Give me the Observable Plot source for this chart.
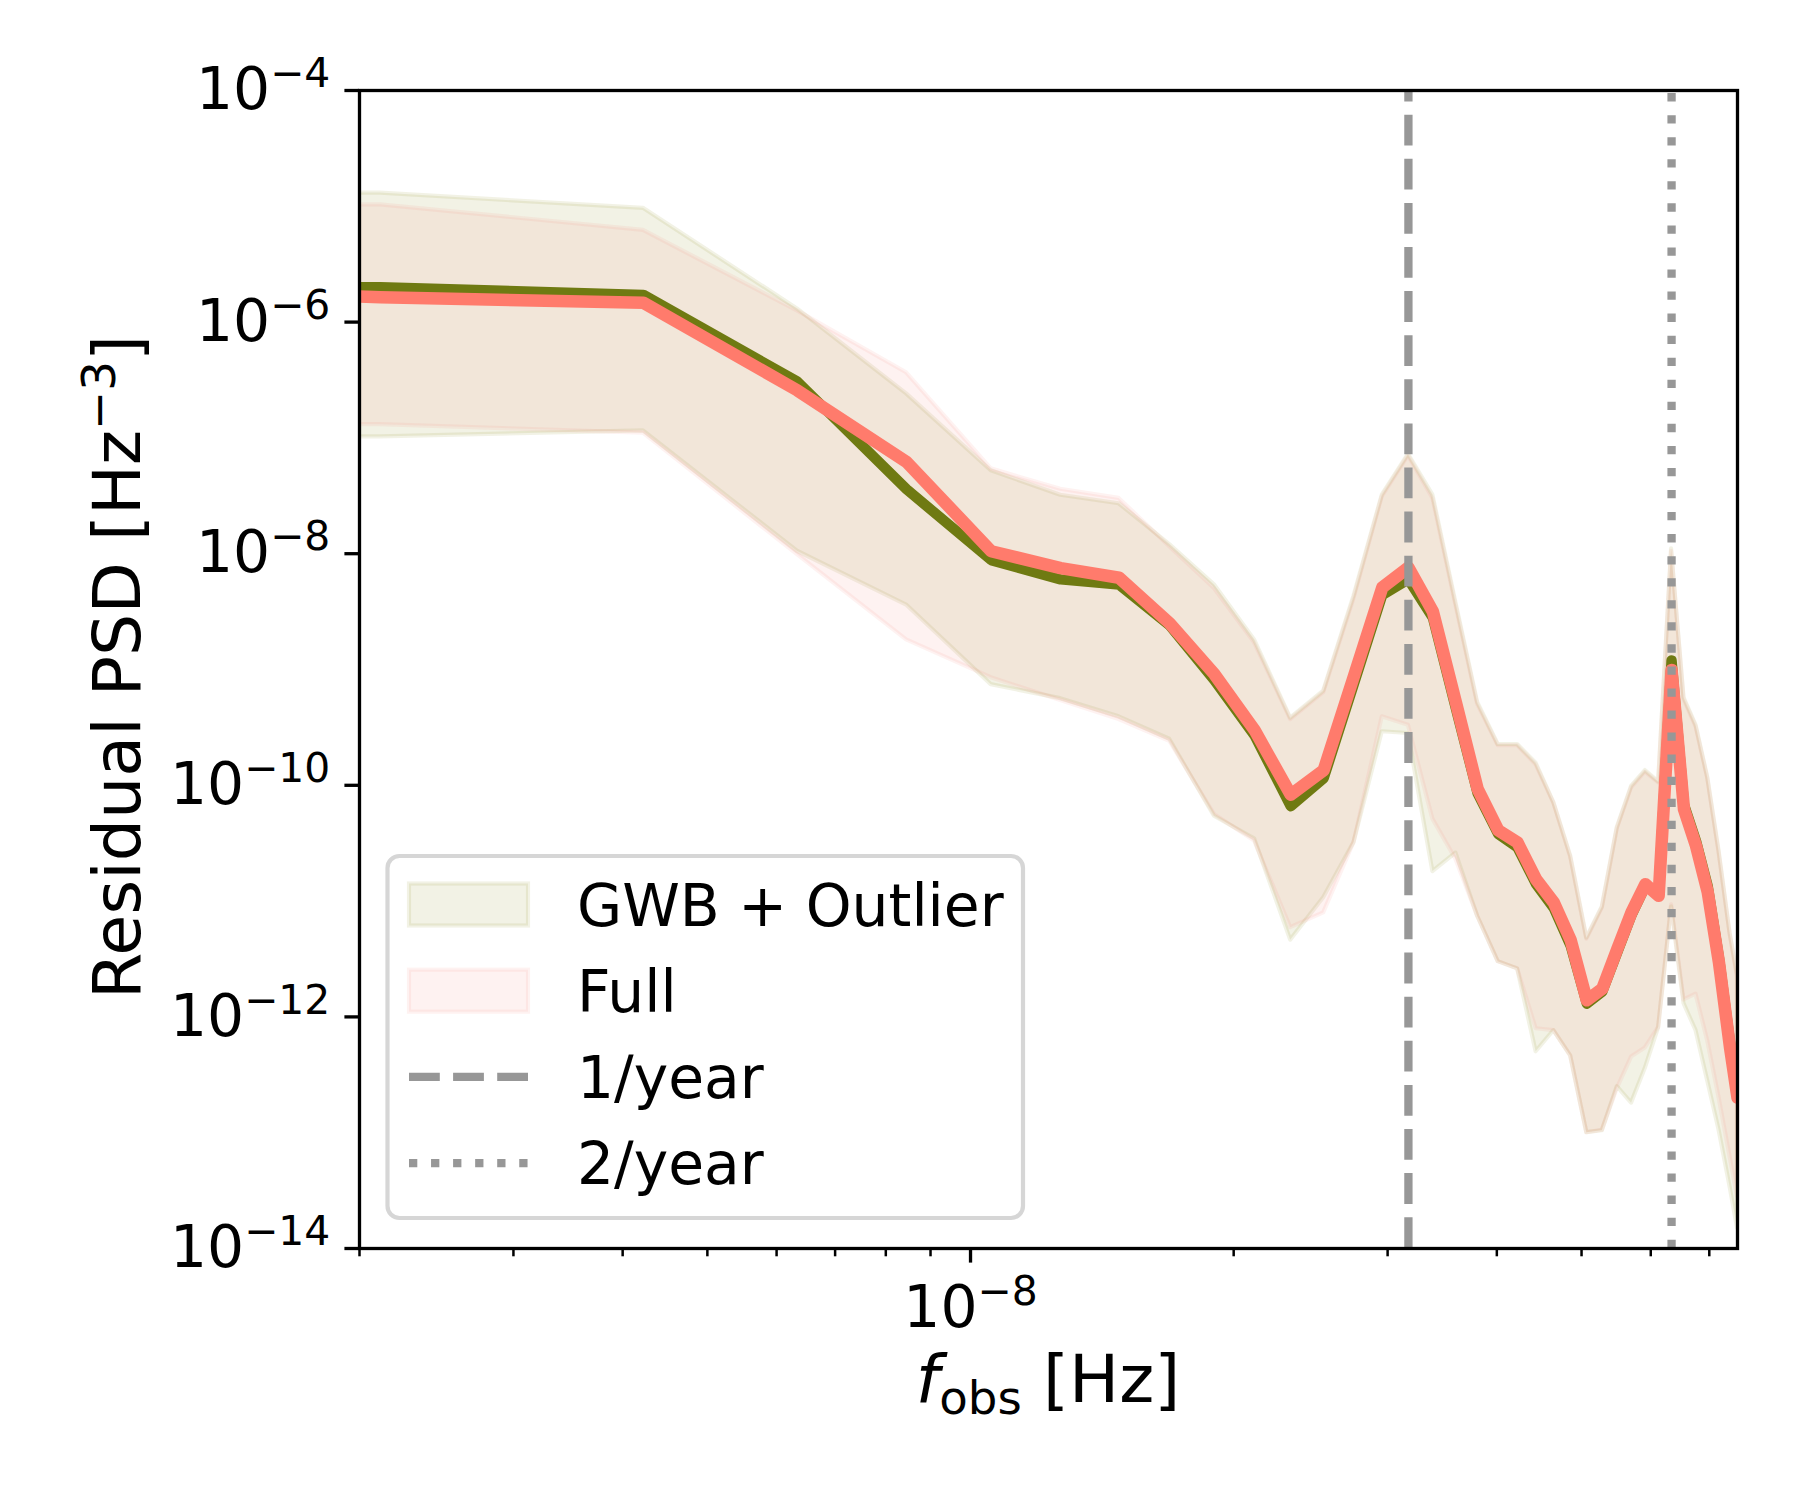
<!DOCTYPE html>
<html>
<head>
<meta charset="utf-8">
<script src="https://cdn.jsdelivr.net/npm/d3@7"></script>
<script src="https://cdn.jsdelivr.net/npm/@observablehq/plot@0.6"></script>
<style>
  body { margin: 0; background: white; }
</style>
</head>
<body>
<div id="chart"></div>
<script>
// frequencies [Hz]: left edge, i/(15 yr) for i = 1..35, right edge
const freq = [2.0e-9, 2.113e-9, 4.225e-9, 6.338e-9, 8.450e-9, 1.056e-8, 1.268e-8, 1.479e-8, 1.690e-8, 1.901e-8,
  2.113e-8, 2.324e-8, 2.535e-8, 2.746e-8, 2.958e-8, 3.169e-8, 3.380e-8, 3.591e-8, 3.803e-8, 4.014e-8,
  4.225e-8, 4.436e-8, 4.648e-8, 4.859e-8, 5.070e-8, 5.281e-8, 5.493e-8, 5.704e-8, 5.915e-8, 6.126e-8,
  6.338e-8, 6.549e-8, 6.760e-8, 6.971e-8, 7.183e-8, 7.394e-8, 7.54e-8]

// GWB + Outlier : median and band
const gwbMed = [2.0e-6, 2.0e-6, 1.72e-6, 3.06e-7, 3.6e-8, 8.8e-9, 6.0e-9, 5.4e-9, 2.4e-9, 8.1e-10,
  2.7e-10, 6.6e-11, 1.15e-10, 7.6e-10, 4.4e-9, 6.0e-9, 2.8e-9, 4.6e-10, 8.5e-11, 3.8e-11,
  2.9e-11, 1.4e-11, 8.7e-12, 4.1e-12, 1.3e-12, 1.65e-12, 3.6e-12, 7.6e-12, 1.35e-11, 1.2e-11,
  1.2e-9, 6.8e-11, 3.3e-11, 1.35e-11, 3.2e-12, 6.0e-13, 2.2e-13]
const gwbHi = [1.3e-5, 1.3e-5, 9.6e-6, 1.3e-6, 2.4e-7, 5.2e-8, 3.2e-8, 2.7e-8, 1.2e-8, 5.4e-9,
  1.8e-9, 3.8e-10, 6.5e-10, 4.3e-9, 3.2e-8, 7.2e-8, 3.2e-8, 3.8e-9, 5.2e-10, 2.25e-10,
  2.25e-10, 1.55e-10, 7.1e-11, 2.45e-11, 4.8e-12, 8.9e-12, 4.3e-11, 9.8e-11, 1.34e-10, 1.07e-10,
  1.1e-8, 5.7e-10, 3.3e-10, 1.17e-10, 2.7e-11, 5.3e-12, 2.3e-12]
const gwbLo = [1.02e-7, 1.02e-7, 1.15e-7, 1.05e-8, 3.6e-9, 7.4e-10, 5.6e-10, 3.9e-10, 2.5e-10, 5.4e-11,
  3.45e-11, 4.6e-12, 1.07e-11, 3.2e-11, 2.9e-10, 2.8e-10, 1.8e-11, 2.6e-11, 7.4e-12, 3.0e-12,
  2.6e-12, 5.0e-13, 7.6e-13, 4.6e-13, 1.0e-13, 1.04e-13, 2.5e-13, 1.8e-13, 3.6e-13, 8.1e-13,
  8.9e-12, 1.3e-12, 7.6e-13, 2.8e-13, 1.05e-13, 3.4e-14, 1.5e-14]

// Full : median and band
const fullMed = [1.66e-6, 1.64e-6, 1.47e-6, 2.57e-7, 6.2e-8, 1.05e-8, 7.5e-9, 6.2e-9, 2.5e-9, 9.1e-10,
  3.0e-10, 8.3e-11, 1.35e-10, 8.8e-10, 5.1e-9, 7.6e-9, 3.16e-9, 5.2e-10, 9.3e-11, 4.1e-11,
  3.2e-11, 1.54e-11, 9.7e-12, 4.6e-12, 1.39e-12, 1.75e-12, 3.85e-12, 8.0e-12, 1.4e-11, 1.11e-11,
  9.9e-10, 6.2e-11, 3.0e-11, 1.2e-11, 2.9e-12, 5.4e-13, 2.0e-13]
const fullHi = [1.03e-5, 1.03e-5, 6.2e-6, 1.25e-6, 3.65e-7, 5.4e-8, 3.6e-8, 3.0e-8, 1.15e-8, 5.0e-9,
  1.7e-9, 3.7e-10, 6.3e-10, 4.1e-9, 3.1e-8, 7.0e-8, 3.0e-8, 3.6e-9, 5.0e-10, 2.2e-10,
  2.2e-10, 1.5e-10, 7.0e-11, 2.4e-11, 4.7e-12, 8.7e-12, 4.2e-11, 9.5e-11, 1.3e-10, 1.05e-10,
  1.05e-8, 5.5e-10, 3.2e-10, 1.15e-10, 2.6e-11, 5.2e-12, 2.2e-12]
const fullLo = [1.3e-7, 1.3e-7, 1.1e-7, 9.8e-9, 1.8e-9, 8.5e-10, 5.4e-10, 3.7e-10, 2.4e-10, 5.6e-11,
  3.3e-11, 5.9e-12, 7.9e-12, 3.2e-11, 3.9e-10, 3.3e-10, 5.1e-11, 2.3e-11, 7.4e-12, 3.0e-12,
  2.6e-12, 7.9e-13, 7.6e-13, 4.6e-13, 1.0e-13, 1.05e-13, 2.4e-13, 4.5e-13, 5.4e-13, 8.1e-13,
  9.3e-12, 1.4e-12, 1.57e-12, 6.2e-13, 2.0e-13, 6.2e-14, 2.8e-14]

const oneYear = [3.169e-8]
const twoYear = [6.338e-8]

const yTicks = [1e-14, 1e-12, 1e-10, 1e-8, 1e-6, 1e-4]
const xMajor = [1e-8]
const xMinor = [2e-9, 3e-9, 4e-9, 5e-9, 6e-9, 7e-9, 8e-9, 9e-9, 2e-8, 3e-8, 4e-8, 5e-8, 6e-8, 7e-8]

const olive = "#808000"
const oliveLine = "#6f7a12"
const salmon = "#fa8072"
const salmonLine = "#ff7b6c"
const grey = "#979797"
const FS = 58.3      // 14 pt at 300 dpi
const FSL = 66.7     // 16 pt, axis labels

const rows = freq.map((f, i) => ({
  f, gMed: gwbMed[i], gHi: gwbHi[i], gLo: gwbLo[i],
  rMed: fullMed[i], rHi: fullHi[i], rLo: fullLo[i]
}))

const pow10 = d => "10^" + String(Math.round(Math.log10(d))).replace("-", "\u2212")

let chart = Plot.plot({
  width: 1800,
  height: 1500,
  marginLeft: 359,
  marginRight: 63,
  marginTop: 90,
  marginBottom: 252,
  style: { fontFamily: "DejaVu Sans", fontSize: FS + "px", color: "black", background: "white" },
  x: { type: "log", domain: [2e-9, 7.54e-8] },
  y: { type: "log", domain: [1e-14, 1e-4] },
  marks: [
    Plot.areaY(rows, { x: "f", y1: "gLo", y2: "gHi", fill: olive, fillOpacity: 0.1,
      stroke: olive, strokeOpacity: 0.1, strokeWidth: 4.2, clip: true }),
    Plot.areaY(rows, { x: "f", y1: "rLo", y2: "rHi", fill: salmon, fillOpacity: 0.1,
      stroke: salmon, strokeOpacity: 0.1, strokeWidth: 4.2, clip: true }),
    Plot.lineY(rows, { x: "f", y: "gMed", stroke: oliveLine, strokeWidth: 10.4, clip: true }),
    Plot.lineY(rows, { x: "f", y: "rMed", stroke: salmonLine, strokeWidth: 12.5, clip: true }),
    Plot.ruleX(oneYear, { x: d => d, y1: 1e-14, y2: 1e-4, stroke: grey, strokeWidth: 8.3,
      strokeDasharray: "30.8,13.3", strokeLinecap: "butt" }),
    Plot.ruleX(twoYear, { x: d => d, y1: 1e-14, y2: 1e-4, stroke: grey, strokeWidth: 8.3,
      strokeDasharray: "8.3,13.75", strokeLinecap: "butt" }),
    Plot.axisY({ ticks: yTicks, tickFormat: pow10, tickSize: 14.6, tickPadding: 14.6,
      strokeWidth: 3.3, fontSize: FS, label: null }),
    Plot.axisX({ ticks: xMajor, tickFormat: pow10, tickSize: 14.6, tickPadding: 22,
      strokeWidth: 3.3, fontSize: FS, label: null }),
    Plot.axisX({ ticks: xMinor, tickFormat: () => "", tickSize: 8.3,
      strokeWidth: 2.5, label: null }),
    Plot.frame({ stroke: "black", strokeWidth: 3.3 })
  ]
})

d3.select('#chart').append(() => chart)

const svg = d3.select(chart)

// mathtext-like superscripts on the tick labels
svg.selectAll("text").each(function () {
  const t = d3.select(this)
  const m = t.text().match(/^10\^(.+)$/)
  if (m) {
    t.text("10")
    t.append("tspan").attr("font-size", "0.7em").attr("dy", -22).text(m[1])
  }
})

// axis labels
const yl = svg.append("text")
  .attr("transform", "translate(140,667) rotate(-90)")
  .attr("text-anchor", "middle")
  .attr("font-family", "DejaVu Sans")
  .attr("font-size", FSL)
  .attr("fill", "black")
yl.append("tspan").text("Residual PSD [Hz")
yl.append("tspan").attr("font-size", "0.7em").attr("dy", -25).text("\u22123")
yl.append("tspan").attr("dy", 25).text("]")

const xl = svg.append("text")
  .attr("x", 1048).attr("y", 1402)
  .attr("text-anchor", "middle")
  .attr("font-family", "DejaVu Sans")
  .attr("font-size", FSL)
  .attr("fill", "black")
xl.append("tspan").attr("font-style", "italic").text("f")
xl.append("tspan").attr("font-size", "0.7em").attr("dy", 11.5).text("obs")
xl.append("tspan").attr("dy", -11.5).text(" [Hz]")

// legend
const lg = svg.append("g").attr("font-family", "DejaVu Sans").attr("font-size", FS)
  .attr("text-anchor", "start")
lg.append("rect")
  .attr("x", 387.5).attr("y", 856).attr("width", 635.5).attr("height", 362).attr("rx", 12)
  .attr("fill", "white").attr("fill-opacity", 0.8)
  .attr("stroke", "#cccccc").attr("stroke-opacity", 0.8).attr("stroke-width", 4.2)
const entries = [
  { label: "GWB + Outlier", kind: "patch", color: olive },
  { label: "Full", kind: "patch", color: salmon },
  { label: "1/year", kind: "line", dash: "30.8,13.3" },
  { label: "2/year", kind: "line", dash: "8.3,13.75" }
]
entries.forEach((e, k) => {
  const cy = 904.5 + k * 86.2
  if (e.kind === "patch") {
    lg.append("rect").attr("x", 409).attr("y", cy - 21).attr("width", 119).attr("height", 42)
      .attr("fill", e.color).attr("fill-opacity", 0.1)
      .attr("stroke", e.color).attr("stroke-opacity", 0.1).attr("stroke-width", 4.2)
  } else {
    lg.append("line").attr("x1", 409).attr("x2", 528).attr("y1", cy).attr("y2", cy)
      .attr("stroke", grey).attr("stroke-width", 8.3).attr("stroke-dasharray", e.dash)
  }
  lg.append("text").attr("x", 577).attr("y", cy + 21).attr("fill", "black")
    .attr("text-anchor", "start").text(e.label)
})
</script>
</body>
</html>
